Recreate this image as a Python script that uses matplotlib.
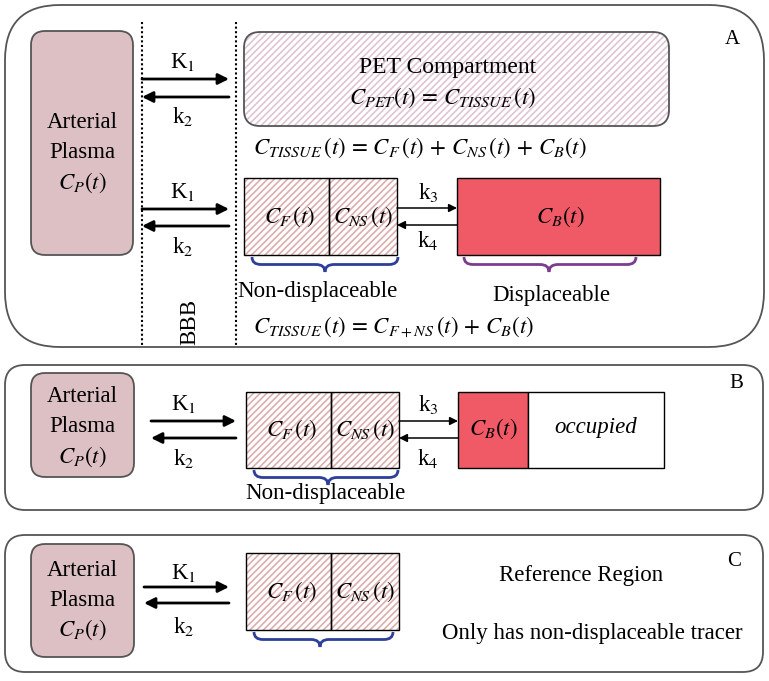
"""Compartment model diagram (PET kinetics): panels A, B, C."""
import matplotlib
matplotlib.use("Agg")
import matplotlib.pyplot as plt
from matplotlib.patches import FancyBboxPatch, Rectangle, PathPatch
from matplotlib.path import Path

# labels / text content
panel_labels = ["A", "B", "C"]
plasma_lines = ["Arterial", "Plasma", "$C_P(t)$"]
rate_in = ["K$_1$", "K$_1$", "K$_1$", "K$_1$"]
rate_out = ["k$_2$", "k$_2$", "k$_2$", "k$_2$"]
bind_rates = ["k$_3$", "k$_4$"]
free_labels = ["$C_F\\,(t)$", "$C_{NS}\\,(t)$"]
bound_label = "$C_B(t)$"
pet_lines = ["PET Compartment", "$C_{PET}(t)\\,=\\,C_{TISSUE}\\,(t)$"]
eq_full = "$C_{TISSUE}\\,(t)\\,=\\,C_F\\,(t)\\,+\\,C_{NS}\\,(t)\\,+\\,C_B(t)$"
eq_short = "$C_{TISSUE}\\,(t)\\,=\\,C_{F+NS}\\,(t)\\,+\\,C_B(t)$"
group_labels = ["Non-displaceable", "Displaceable"]
ref_lines = ["Reference Region", "Only has non-displaceable tracer"]

plt.rcParams["font.family"] = ["Liberation Serif", "DejaVu Serif"]
plt.rcParams["mathtext.fontset"] = "stix"
plt.rcParams["hatch.linewidth"] = 1.2

PLASMA = "#dcc0c4"
RED = "#f05a66"
HATCH = "#dcaeae"
HATCH_PET = "#e0c6d4"
BLUE = "#2e3f9a"
PURPLE = "#7b3d8e"
FS = 16.5
HP = "/////"

fig = plt.figure(figsize=(7.69, 6.81), dpi=100)
ax = fig.add_axes([0, 0, 1, 1])
ax.set_xlim(0, 769)
ax.set_ylim(681, 0)
ax.axis("off")


def rbox(x0, y0, x1, y1, r, fc="white", ec="#555555", lw=1.2, hatch=None, hc=None, z=1):
    if hatch:
        ax.add_patch(FancyBboxPatch((x0, y0), x1 - x0, y1 - y0,
                                    boxstyle=f"round,pad=0,rounding_size={r}",
                                    fc=fc, ec=hc, lw=0, hatch=hatch, zorder=z))
        fc = "none"
    ax.add_patch(FancyBboxPatch((x0, y0), x1 - x0, y1 - y0,
                                boxstyle=f"round,pad=0,rounding_size={r}",
                                fc=fc, ec=ec, lw=lw, zorder=z + 0.1))


def box(x0, y0, x1, y1, fc="white", hatch=None, hc=None, lw=1.0):
    if hatch:
        ax.add_patch(Rectangle((x0, y0), x1 - x0, y1 - y0, fc=fc, ec=hc,
                               lw=0, hatch=hatch, zorder=2))
        fc = "none"
    ax.add_patch(Rectangle((x0, y0), x1 - x0, y1 - y0, fc=fc, ec="black",
                           lw=lw, zorder=2.1))


def arrow(x0, x1, y, lw=2.0, ms=16):
    ax.annotate("", xy=(x1, y), xytext=(x0, y),
                arrowprops=dict(arrowstyle="-|>", lw=lw, color="black",
                                mutation_scale=ms, shrinkA=0, shrinkB=0))


def brace(x0, x1, xm, y, h, color):
    r = 9
    ym = y + h / 2
    verts = [(x0, y), (x0, ym), (x0 + r, ym),
             (xm - r, ym), (xm, ym), (xm, y + h),
             (xm, ym), (xm + r, ym),
             (x1 - r, ym), (x1, ym), (x1, y)]
    codes = [Path.MOVETO, Path.CURVE3, Path.CURVE3,
             Path.LINETO, Path.CURVE3, Path.CURVE3,
             Path.CURVE3, Path.CURVE3,
             Path.LINETO, Path.CURVE3, Path.CURVE3]
    ax.add_patch(PathPatch(Path(verts, codes), fc="none", ec=color, lw=2.0, zorder=3))


def txt(x, y, s, size=FS, **kw):
    ax.text(x, y, s, ha="center", va="center", fontsize=size, zorder=5, **kw)


def plasma(x0, y0, x1, y1, ys):
    rbox(x0, y0, x1, y1, 14, fc=PLASMA, ec="#555555", lw=1.3, z=2)
    for yy, s in zip(ys, plasma_lines):
        txt((x0 + x1) / 2, yy, s)


def free_pair(x0, xm, x1, y0, y1):
    box(x0, y0, xm, y1, hatch=HP, hc=HATCH)
    box(xm, y0, x1, y1, hatch=HP, hc=HATCH)
    yc = (y0 + y1) / 2
    txt((x0 + xm) / 2 + 3, yc, free_labels[0])
    txt((xm + x1) / 2, yc, free_labels[1])


# ---------------- panel A ----------------
rbox(5, 5, 764, 347, 55, lw=1.3, ec="#555555")
txt(732, 40, panel_labels[0], size=15)
plasma(31, 31, 133, 255, [123, 153, 183])
for xv in (142, 236):
    ax.plot([xv, xv], [22, 346], ls=(0, (1, 1.2)), lw=1.5, color="black", zorder=3)
txt(190, 322, "BBB", rotation=90)

arrow(142, 229, 79)
arrow(229, 142, 97)
txt(183, 62, rate_in[0])
txt(183, 116, rate_out[0])
arrow(142, 229, 209)
arrow(229, 142, 226)
txt(183, 192, rate_in[1])
txt(183, 246, rate_out[1])

rbox(244, 32, 669, 126, 16, fc="white", ec="#555555", lw=1.3,
     hatch=HP, hc=HATCH_PET, z=2)
txt(448, 68, pet_lines[0], size=17)
txt(443, 98, pet_lines[1])
txt(420, 148, eq_full)

free_pair(244, 329, 397, 178, 255)
arrow(397, 457, 208, lw=1.1, ms=12)
arrow(457, 397, 225, lw=1.1, ms=12)
txt(428, 192, bind_rates[0])
txt(428, 241, bind_rates[1])
box(457, 178, 660, 255, fc=RED)
txt(560, 217, bound_label)
brace(252, 398, 325, 257, 15, BLUE)
brace(464, 636, 549, 257, 15, PURPLE)
txt(317, 292, group_labels[0])
txt(551, 295, group_labels[1])
txt(393, 327, eq_short)

# ---------------- panel B ----------------
rbox(5, 365, 763, 510, 20, lw=1.3, ec="#555555")
txt(736, 383, panel_labels[1], size=15)
plasma(31, 373, 134, 477, [397, 427, 457])
arrow(151, 236, 421)
arrow(236, 151, 438)
txt(184, 404, rate_in[2])
txt(184, 458, rate_out[2])
free_pair(246, 331, 399, 392, 468)
arrow(399, 458, 421, lw=1.1, ms=12)
arrow(458, 399, 438, lw=1.1, ms=12)
txt(428, 405, bind_rates[0])
txt(428, 458, bind_rates[1])
box(458, 392, 528, 468, fc=RED)
box(528, 392, 664, 468, fc="white")
txt(493, 429, bound_label)
txt(596, 428, "occupied", style="italic")
brace(254, 398, 328, 470, 15, BLUE)
txt(325, 494, group_labels[0])

# ---------------- panel C ----------------
rbox(5, 535, 763, 672, 20, lw=1.3, ec="#555555")
txt(734, 562, panel_labels[2], size=15)
plasma(31, 544, 134, 657, [570, 600, 630])
arrow(144, 229, 587)
arrow(229, 144, 603)
txt(184, 573, rate_in[3])
txt(184, 626, rate_out[3])
free_pair(246, 331, 399, 553, 630)
brace(254, 393, 320, 632, 15, BLUE)
txt(581, 575, ref_lines[0])
txt(592, 633, ref_lines[1])

fig.savefig("out.png", dpi=100)
